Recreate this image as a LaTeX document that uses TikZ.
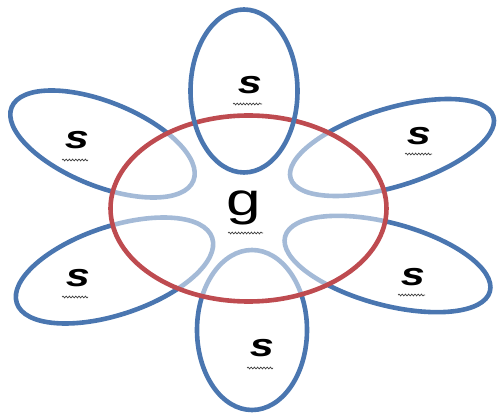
\documentclass[tikz,border=0pt]{standalone}
\usepackage{fontspec}
\setmainfont{Liberation Sans}
\usetikzlibrary{decorations.pathmorphing}
\definecolor{petal}{HTML}{4A76B0}
\definecolor{ring}{HTML}{BE4B50}
\tikzset{
  petalline/.style={draw=petal, line width=4.6pt},
  ringline/.style={draw=ring, line width=4.6pt},
  slabel/.style={font=\fontsize{32}{32}\selectfont\bfseries\itshape, xscale=1.35, inner sep=0pt, text=black},
  glabel/.style={font=\fontsize{46}{46}\selectfont, xscale=1.35, inner sep=0pt, text=black},
  squiggle/.style={draw=black!75, line width=0.7pt, decorate, decoration={snake, segment length=3.2pt, amplitude=0.9pt}}
}
\begin{document}
\begin{tikzpicture}[x=1pt, y=-1pt]
\useasboundingbox (0,0) rectangle (498,414);
% petals under the ring
\draw[petalline, rotate around={-22:(102.5,144)}] (102.5,144) ellipse [x radius=98pt, y radius=42pt];
\draw[petalline, rotate around={17:(392,147.5)}] (392,147.5) ellipse [x radius=106pt, y radius=39pt];
\draw[petalline, rotate around={18.5:(114.5,270.5)}] (114.5,270.5) ellipse [x radius=103pt, y radius=44pt];
\draw[petalline, rotate around={-15:(387.5,264)}] (387.5,264) ellipse [x radius=106pt, y radius=41pt];
\draw[petalline] (252,330) ellipse [x radius=55pt, y radius=80pt];
% faded interior and ring
\fill[white, fill opacity=0.5] (248.5,208.5) ellipse [x radius=138pt, y radius=93pt];
\draw[ringline] (248.5,208.5) ellipse [x radius=138pt, y radius=93pt];
% top petal over everything
\draw[petalline] (244,91) ellipse [x radius=53.5pt, y radius=81.5pt];
% labels
\node[slabel] (stop) at (250,85) {s};
\node[slabel] (sul) at (77,140) {s};
\node[slabel] (sur) at (419,136) {s};
\node[slabel] (sll) at (78,278) {s};
\node[slabel] (slr) at (413,277) {s};
\node[slabel] (sbot) at (262,348) {s};
\node[glabel] (g) at (244,208) {g};
% spelling squiggles
\draw[squiggle] (233,104) -- (262,104);
\draw[squiggle] (62,160) -- (88,160);
\draw[squiggle] (405,154) -- (432,154);
\draw[squiggle] (62,297) -- (88,297);
\draw[squiggle] (398,295) -- (425,295);
\draw[squiggle] (247,368) -- (273,368);
\draw[squiggle] (228,233) -- (263,233);
\end{tikzpicture}
\end{document}
